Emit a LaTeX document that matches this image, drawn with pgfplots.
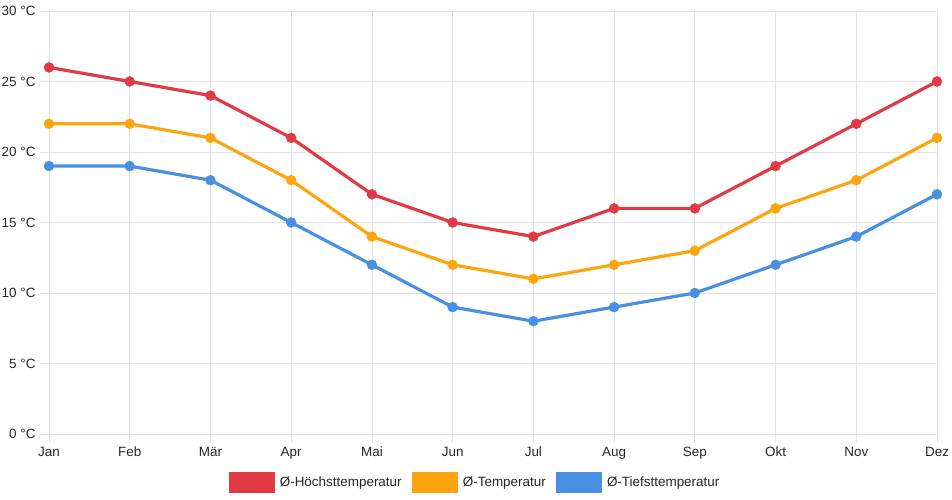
\documentclass[border=0pt]{standalone}
\usepackage{pgfplots}
\pgfplotsset{compat=1.18}
\usepackage{fontspec}
\setmainfont{Liberation Sans}
\definecolor{hoch}{HTML}{E03A45}
\definecolor{mittel}{HTML}{FDA50F}
\definecolor{tief}{HTML}{4A90E2}
\definecolor{gitter}{HTML}{E3E3E3}
\begin{document}
\begin{tikzpicture}[x=1bp,y=1bp]
\path[use as bounding box] (0,0) rectangle (952,500);
\begin{axis}[
    at={(49bp,66bp)}, anchor=south west,
    scale only axis, width=888bp, height=423bp,
    xmin=0, xmax=11, ymin=0, ymax=30,
    xtick={0,...,11},
    xticklabels={Jan,Feb,Mär,Apr,Mai,Jun,Jul,Aug,Sep,Okt,Nov,Dez},
    ytick={0,5,...,30},
    yticklabel={\pgfmathprintnumber{\tick} °C},
    /pgf/number format/assume math mode=true,
    grid=major,
    grid style={gitter, line width=0.8bp},
    axis line style={gitter, line width=0.8bp},
    tick style={gitter, line width=0.8bp},
    tick align=outside, major tick length=9bp,
    xtick pos=bottom, ytick pos=left,
    ticklabel style={font=\fontsize{13.5}{15}\selectfont, text=black!85},
    xticklabel style={text height=10bp, text depth=3bp, yshift=0bp},
    yticklabel style={xshift=-1bp},
    clip=false,
    legend columns=3,
    legend style={at={(0.5,-0.114)}, anchor=center, xshift=-18bp, draw=none,
        font=\fontsize{13.5}{15}\selectfont, text=black!85,
        inner xsep=0bp,
        /tikz/every odd column/.append style={column sep=3bp},
        /tikz/every even column/.append style={column sep=8bp}},
    legend image code/.code={\fill[#1] (0bp,-9bp) rectangle (43bp,9bp);},
]
\addplot[hoch, line width=3.2bp, mark=*, mark size=5bp, mark options={fill=hoch, line width=0.4bp}] coordinates {
(0,26) (1,25) (2,24) (3,21) (4,17) (5,15) (6,14) (7,16) (8,16) (9,19) (10,22) (11,25)};
\addlegendentry{Ø-Höchsttemperatur}
\addplot[mittel, line width=3.2bp, mark=*, mark size=5bp, mark options={fill=mittel, line width=0.4bp}] coordinates {
(0,22) (1,22) (2,21) (3,18) (4,14) (5,12) (6,11) (7,12) (8,13) (9,16) (10,18) (11,21)};
\addlegendentry{Ø-Temperatur}
\addplot[tief, line width=3.2bp, mark=*, mark size=5bp, mark options={fill=tief, line width=0.4bp}] coordinates {
(0,19) (1,19) (2,18) (3,15) (4,12) (5,9) (6,8) (7,9) (8,10) (9,12) (10,14) (11,17)};
\addlegendentry{Ø-Tiefsttemperatur}
\end{axis}
\end{tikzpicture}
\end{document}
